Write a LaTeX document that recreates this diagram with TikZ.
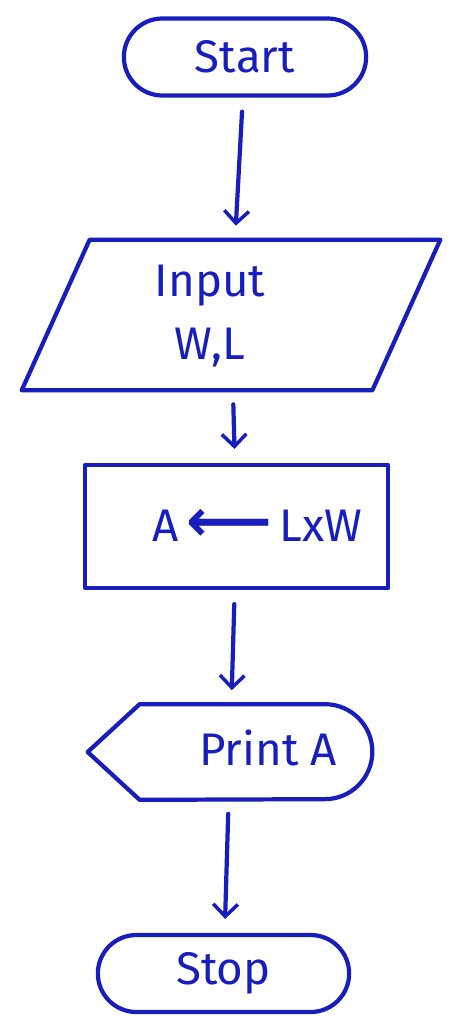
\documentclass[tikz,border=0pt]{standalone}
\usepackage{fontspec}
\setmainfont{Fira Sans}
\newfontfamily\arrowfont{DejaVu Sans}
\usetikzlibrary{shapes.misc,arrows.meta}
\definecolor{inkblue}{RGB}{24,30,190}
\begin{document}
\begin{tikzpicture}[every node/.style={font=\fontsize{26}{30}\selectfont,text=inkblue},
  pen/.style={draw=inkblue,line width=2.4pt,line join=round,line cap=round},
  flow/.style={pen,-{Straight Barb[length=7pt,width=14pt,line width=2pt]},shorten <=0.28cm,shorten >=0.28cm}]
\useasboundingbox (0,0) rectangle (9.22,-20.68);
% Start block
\node[pen,rounded rectangle,minimum width=5.08cm,minimum height=1.54cm] (start) at (4.9,-1.14) {Start};
% Input block
\node[minimum width=8.36cm,minimum height=3cm] (input) at (4.62,-6.3) {};
\draw[pen] ([xshift=1.36cm]input.north west) -- (input.north east) -- ([xshift=-1.36cm]input.south east) -- (input.south west) -- cycle;
\node[align=center,font=\fontsize{26}{36}\selectfont] (inputtxt) at (4.2,-6.32) {Input\\W,L};
% Process block
\node[pen,minimum width=6.06cm,minimum height=2.46cm] (calc) at (4.73,-10.53) {};
\node (calctxt) at (5.15,-10.5) {A\,{\arrowfont\bfseries\fontsize{34}{34}\selectfont ⟵}\,LxW};
% Display block
\node[minimum width=5.68cm,minimum height=1.9cm] (print) at (4.6,-15.04) {};
\draw[pen] (print.west) -- ([xshift=1.04cm]print.north west) -- ([xshift=-0.95cm]print.north east) arc[start angle=90,end angle=-90,radius=0.95cm] -- ([xshift=1.04cm]print.south west) -- cycle;
\node (printtxt) at (5.36,-14.96) {Print A};
% Stop block
\node[pen,rounded rectangle,minimum width=5.26cm,minimum height=1.54cm] (stop) at (4.47,-19.47) {Stop};
% arrows
\draw[flow] (start) -- (input);
\draw[flow] (input) -- (calc);
\draw[flow] (calc) -- (print);
\draw[flow] (print) -- (stop);
\end{tikzpicture}
\end{document}
